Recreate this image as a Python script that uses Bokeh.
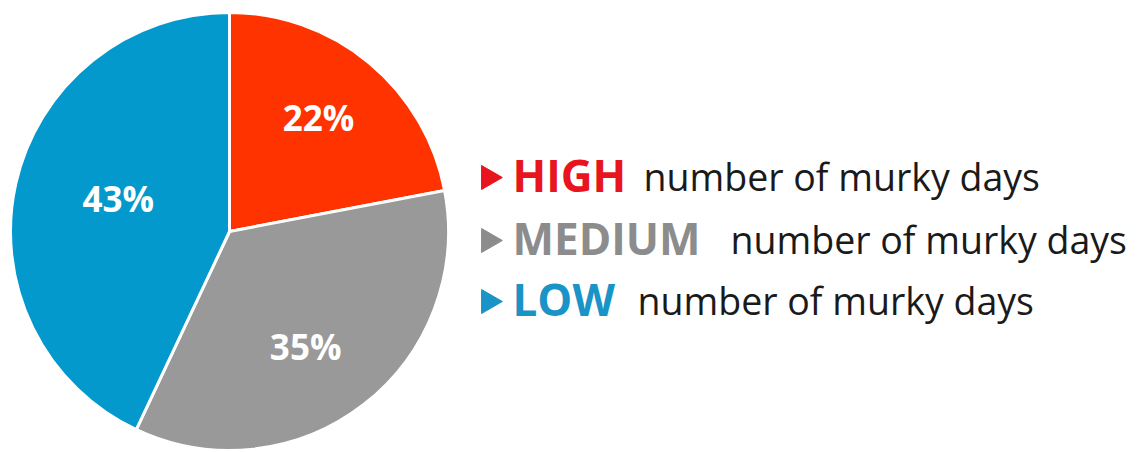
import math
from bokeh.plotting import figure
from bokeh.models import Range1d, ColumnDataSource
from bokeh.core.properties import value
from bokeh.embed import file_html
from bokeh.resources import INLINE

# ---- data ----
categories = ["HIGH", "MEDIUM", "LOW"]
shares = [22, 35, 43]
pct_labels = ["22%", "35%", "43%"]
legend_rest = "number of murky days"
slice_colors = ["#FF3300", "#999999", "#0399CC"]
word_colors = ["#E8141E", "#8C8C8C", "#1A94C6"]

W, H = 1138, 452
p = figure(width=W, height=H, output_backend="svg", toolbar_location=None,
           x_range=Range1d(0, W), y_range=Range1d(0, H), min_border=0)
p.axis.visible = False
p.grid.visible = False
p.outline_line_color = None
p.background_fill_color = "white"
p.border_fill_color = "white"

# pie geometry (layout)
cx, cy, R = 229, H - 231, 219
total = float(sum(shares))
starts, ends, mids = [], [], []
cum = 0.0
for s in shares:
    a0 = math.pi / 2 - 2 * math.pi * cum / total
    cum += s
    a1 = math.pi / 2 - 2 * math.pi * cum / total
    starts.append(a0)
    ends.append(a1)
    mids.append((a0 + a1) / 2)

src = ColumnDataSource(dict(x=[cx] * 3, y=[cy] * 3, start=starts, end=ends,
                            color=slice_colors))
p.wedge(x="x", y="y", radius=R, start_angle="start", end_angle="end",
        direction="clock", fill_color="color", line_color="white",
        line_width=3, source=src)

label_r = [0.66, 0.63, 0.53]
label_turn = [1.6, -4.3, -4.0]  # degrees, layout tweak
lx, ly = [], []
for f, m, t in zip(label_r, mids, label_turn):
    a = m + math.radians(t)
    lx.append(cx + R * f * math.cos(a))
    ly.append(cy + R * f * math.sin(a))
p.text(x=lx, y=ly, text=pct_labels, text_color="white",
       text_font=value("Open Sans"), text_font_style="bold",
       text_font_size="35px", text_align="center", text_baseline="middle")

# legend (layout)
baselines = [H - 192, H - 255, H - 316]
word_x = 512
rest_x = [643, 730, 637]
p.scatter(x=[488] * 3, y=[b + 15 for b in baselines], marker="triangle",
          size=24, angle=-math.pi / 2, fill_color=word_colors,
          line_color=word_colors)
p.text(x=[word_x] * 3, y=[b + 18 for b in baselines], text=categories,
       text_color=word_colors,
       text_font=value("Open Sans"), text_font_style="bold",
       text_font_size="44px", text_align="left", text_baseline="alphabetic")
p.text(x=rest_x, y=[b + 16 for b in baselines], text=[legend_rest] * 3,
       text_color="#1A1A1A",
       text_font=value("Open Sans"), text_font_size="37.5px",
       text_align="left", text_baseline="alphabetic")

open("out.html", "w").write(file_html(p, INLINE))
